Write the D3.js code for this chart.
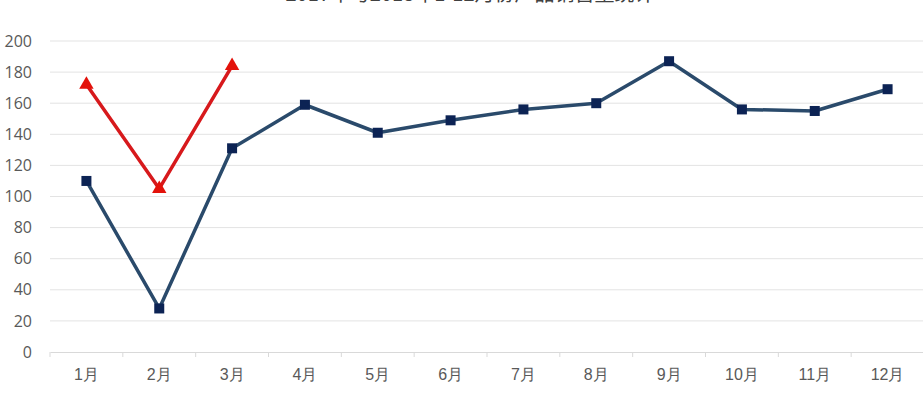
<!DOCTYPE html>
<html>
<head>
<meta charset="utf-8">
<script src="https://cdn.jsdelivr.net/npm/d3@7"></script>
<style>
  body { margin: 0; background: #fff; overflow: hidden; }
  svg { display: block; font-family: "Noto Sans CJK SC", "Open Sans", sans-serif; }
</style>
</head>
<body>
<svg id="chart"></svg>
<script>
// data
var months = ["1月", "2月", "3月", "4月", "5月", "6月", "7月", "8月", "9月", "10月", "11月", "12月"];
var seriesA = [110, 28, 131, 159, 141, 149, 156, 160, 187, 156, 155, 169];
var seriesB = [172, 105, 184];
var yTicks = [0, 20, 40, 60, 80, 100, 120, 140, 160, 180, 200];
var title = "2017年与2018年1-12月份产品销售量统计";

const W = 923, H = 393;
const margin = { top: 41, right: -1, bottom: 41, left: 50 };
const width = W - margin.left - margin.right;
const height = H - margin.top - margin.bottom;

const svg = d3.select("#chart").attr("width", W).attr("height", H);

// title, mostly cut off at the top like in the source picture
svg.append("text")
  .attr("x", 470).attr("y", 1)
  .attr("text-anchor", "middle")
  .attr("font-size", 20)
  .attr("fill", "#404040")
  .text(title);

const g = svg.append("g").attr("transform", `translate(${margin.left},${margin.top})`);

const x = d3.scaleBand().domain(months).range([0, width]);
const y = d3.scaleLinear().domain([0, 200]).range([height, 0]);

// gridlines
g.selectAll(".grid")
  .data(yTicks.filter(d => d > 0))
  .join("line")
  .attr("x1", 0).attr("x2", width)
  .attr("y1", d => y(d)).attr("y2", d => y(d))
  .attr("stroke", "#e3e3e3").attr("stroke-width", 1);

// y axis labels
const yAxis = g.append("g").call(d3.axisLeft(y).tickValues(yTicks).tickSize(0).tickPadding(18));
yAxis.select(".domain").remove();
yAxis.selectAll("text").attr("font-size", 16).attr("fill", "#595959")
  .attr("font-family", "'Open Sans', sans-serif");

// x axis
const xAxis = g.append("g").attr("transform", `translate(0,${height})`)
  .call(d3.axisBottom(x).tickSize(0).tickPadding(17));
xAxis.select(".domain").attr("stroke", "#d9d9d9");
xAxis.selectAll("text").attr("font-size", 16).attr("fill", "#595959");
// tick marks at band edges
g.selectAll(".xtick")
  .data(months.concat(["end"]))
  .join("line")
  .attr("x1", (d, i) => i * x.bandwidth()).attr("x2", (d, i) => i * x.bandwidth())
  .attr("y1", height).attr("y2", height + 5)
  .attr("stroke", "#d9d9d9");

const cx = i => x(months[i]) + x.bandwidth() / 2;
const line = d3.line().x((d, i) => cx(i)).y(d => y(d));

// blue series
g.append("path").datum(seriesA).attr("d", line)
  .attr("fill", "none").attr("stroke", "#2a4a6b").attr("stroke-width", 3.5)
  .attr("stroke-linejoin", "round");
g.selectAll(".sq").data(seriesA).join("rect")
  .attr("x", (d, i) => cx(i) - 5).attr("y", d => y(d) - 5)
  .attr("width", 10).attr("height", 10)
  .attr("fill", "#0c2354");

// red series
g.append("path").datum(seriesB).attr("d", line)
  .attr("fill", "none").attr("stroke", "#d7191c").attr("stroke-width", 3.5)
  .attr("stroke-linejoin", "round");
g.selectAll(".tri").data(seriesB).join("path")
  .attr("transform", (d, i) => `translate(${cx(i)},${y(d)})`)
  .attr("d", d3.symbol().type(d3.symbolTriangle).size(90))
  .attr("fill", "#e3120b");
</script>
</body>
</html>
